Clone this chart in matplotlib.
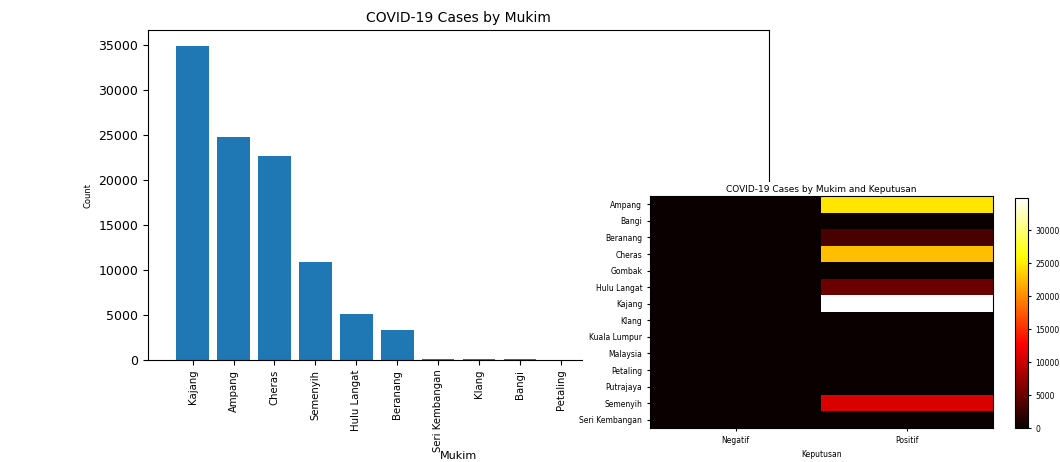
import numpy as np
import matplotlib
matplotlib.use('Agg')
import matplotlib.pyplot as plt

# bar chart data (sorted by count), last four hidden behind the heatmap panel
mukim_sorted = ['Kajang', 'Ampang', 'Cheras', 'Semenyih', 'Hulu Langat', 'Beranang',
                'Seri Kembangan', 'Klang', 'Bangi', 'Petaling',
                'Gombak', 'Kuala Lumpur', 'Malaysia', 'Putrajaya']
counts_sorted = [34900, 24800, 22700, 10900, 5100, 3300, 100, 80, 60, 10, 5, 3, 2, 1]

# heatmap data
mukim_alpha = ['Ampang', 'Bangi', 'Beranang', 'Cheras', 'Gombak', 'Hulu Langat', 'Kajang',
               'Klang', 'Kuala Lumpur', 'Malaysia', 'Petaling', 'Putrajaya', 'Semenyih',
               'Seri Kembangan']
keputusan = ['Negatif', 'Positif']
negatif = [0, 0, 0, 0, 0, 0, 0, 0, 0, 0, 0, 0, 0, 0]
positif = [24800, 60, 3300, 22700, 5, 5100, 34900, 80, 3, 2, 10, 1, 10900, 100]

fig = plt.figure(figsize=(10.6, 4.62), dpi=100)

# Bar chart
ax1 = fig.add_axes([148 / 1060, 1 - 360 / 462, 621 / 1060, 330 / 462])
ax1.bar(mukim_sorted, counts_sorted, color='#1f77b4')
ax1.set_title('COVID-19 Cases by Mukim', fontsize=10)
ax1.set_xlabel('Mukim', fontsize=8)
ax1.xaxis.set_label_coords(0.5, -0.276)
ax1.set_ylabel('Count', fontsize=6)
ax1.tick_params(axis='x', rotation=90, labelsize=7.3)
ax1.tick_params(axis='y', labelsize=9)
# labels of the last bars sit under the heatmap panel anyway
for lbl in ax1.get_xticklabels()[10:]:
    lbl.set_visible(False)

# white panel holding the heatmap, drawn over the bar chart
panel = fig.add_axes([583 / 1060, 0, 477 / 1060, 1 - 182 / 462])
panel.set_facecolor('white')
panel.set_xticks([])
panel.set_yticks([])
for s in panel.spines.values():
    s.set_visible(False)

# Heatmap
data = np.array([negatif, positif]).T
ax2 = fig.add_axes([650 / 1060, 1 - 428 / 462, 343 / 1060, 232 / 462])
im = ax2.imshow(data, cmap='hot', aspect='auto', interpolation='nearest')
ax2.set_xticks(range(len(keputusan)))
ax2.set_xticklabels(keputusan)
ax2.set_yticks(range(len(mukim_alpha)))
ax2.set_yticklabels(mukim_alpha)
ax2.tick_params(labelsize=5.5, length=2)
ax2.set_xlabel('Keputusan', fontsize=5.5)
ax2.set_title('COVID-19 Cases by Mukim and Keputusan', fontsize=6.5, pad=3)

cax = fig.add_axes([1015 / 1060, 1 - 428 / 462, 13 / 1060, 230 / 462])
cb = fig.colorbar(im, cax=cax)
cb.ax.tick_params(labelsize=5.5, length=2)

plt.savefig('out.png', dpi=100)
